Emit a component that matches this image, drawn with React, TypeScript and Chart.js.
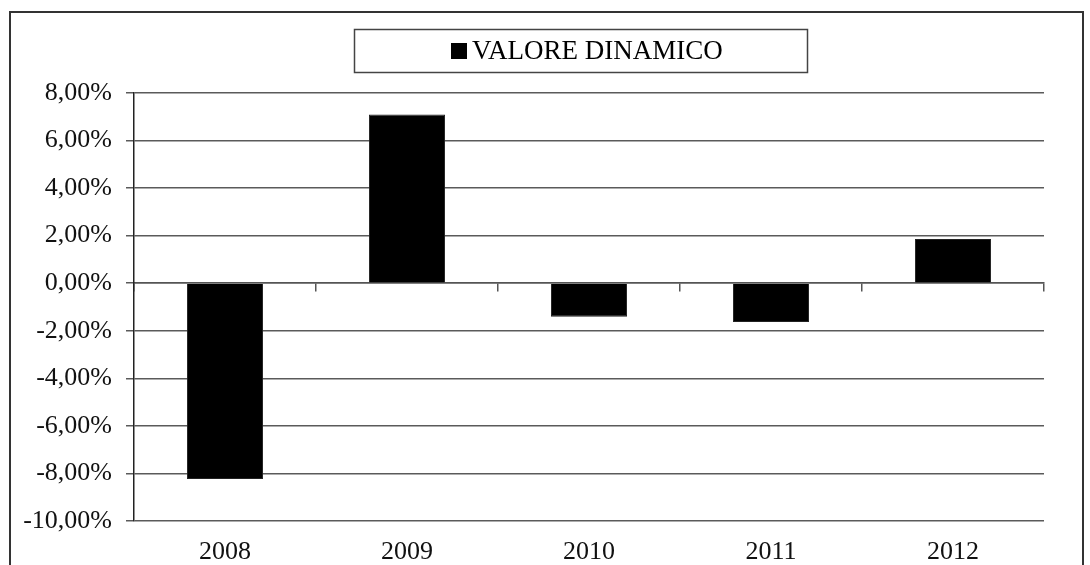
import React, { useEffect, useRef } from "react";
import { Chart, registerables } from "chart.js";

Chart.register(...registerables);

const categories = ["2008", "2009", "2010", "2011", "2012"];
const seriesName = "VALORE DINAMICO";
const values = [-8.23, 7.1, -1.41, -1.63, 1.86];
const yMin = -10;
const yMax = 8;
const yStep = 2;

const SERIF = "'Liberation Serif', 'Times New Roman', serif";

const framePlugin = {
  id: "frame",
  afterDraw(chart: any) {
    const ctx = chart.ctx;
    ctx.save();
    // outer frame (left, top, right)
    ctx.strokeStyle = "#333";
    ctx.lineWidth = 2;
    ctx.beginPath();
    ctx.moveTo(10, 600);
    ctx.lineTo(10, 12);
    ctx.lineTo(1083, 12);
    ctx.lineTo(1083, 600);
    ctx.stroke();
    // legend box
    ctx.lineWidth = 1.5;
    ctx.strokeStyle = "#444";
    ctx.strokeRect(354.5, 29.5, 453, 43);
    // legend marker + text
    const ds = chart.data.datasets[0];
    ctx.fillStyle = ds.backgroundColor;
    ctx.fillRect(451, 43, 16, 16);
    ctx.fillStyle = "#000";
    ctx.font = `27px ${SERIF}`;
    ctx.textBaseline = "middle";
    ctx.textAlign = "left";
    ctx.fillText(ds.label, 472, 52);
    ctx.restore();
  },
};

export default function App() {
  const ref = useRef<HTMLCanvasElement>(null);
  useEffect(() => {
    if (!ref.current) return;
    const chart = new Chart(ref.current, {
      type: "bar",
      data: {
        labels: categories,
        datasets: [
          {
            label: seriesName,
            data: values,
            backgroundColor: "#000",
            borderColor: "#222",
            borderWidth: 1,
            barPercentage: 1,
            categoryPercentage: 0.418,
            xAxisID: "x",
            yAxisID: "y",
          },
        ],
      },
      options: {
        animation: false,
        responsive: false,
        maintainAspectRatio: false,
        layout: { padding: { left: 0, top: 93, right: 46, bottom: 0 } },
        plugins: {
          legend: { display: false },
          tooltip: { enabled: false },
          title: { display: false },
        },
        scales: {
          x: {
            type: "category",
            position: "bottom",
            grid: { display: false },
            border: { display: false },
            ticks: {
              color: "#111",
              font: { family: SERIF, size: 26 },
              padding: 8,
              maxRotation: 0,
            },
            afterFit: (s: any) => {
              s.height = 44;
            },
          },
          x2: {
            type: "category",
            position: { y: 0 } as any,
            offset: true,
            grid: {
              offset: true,
              drawOnChartArea: false,
              tickLength: 8,
              color: "#555",
              lineWidth: 1.5,
            },
            border: { display: true, color: "#555", width: 1.5 },
            ticks: { display: false },
          },
          y: {
            type: "linear",
            min: yMin,
            max: yMax,
            ticks: {
              stepSize: yStep,
              color: "#111",
              font: { family: SERIF, size: 26 },
              padding: 14,
              callback: (v: any) => Number(v).toFixed(2).replace(".", ",") + "%",
            },
            grid: { color: "#5a5a5a", lineWidth: 1.5, tickLength: 8 },
            border: { display: true, color: "#222", width: 1.5 },
            afterFit: (s: any) => {
              s.width = 134;
            },
          },
        },
      },
      plugins: [framePlugin],
    });
    return () => chart.destroy();
  }, []);
  return (
    <div style={{ position: "absolute", left: 0, top: 0, width: 1090, height: 565, background: "#fff" }}>
      <canvas ref={ref} width={1090} height={565} style={{ width: 1090, height: 565, display: "block" }} />
    </div>
  );
}
